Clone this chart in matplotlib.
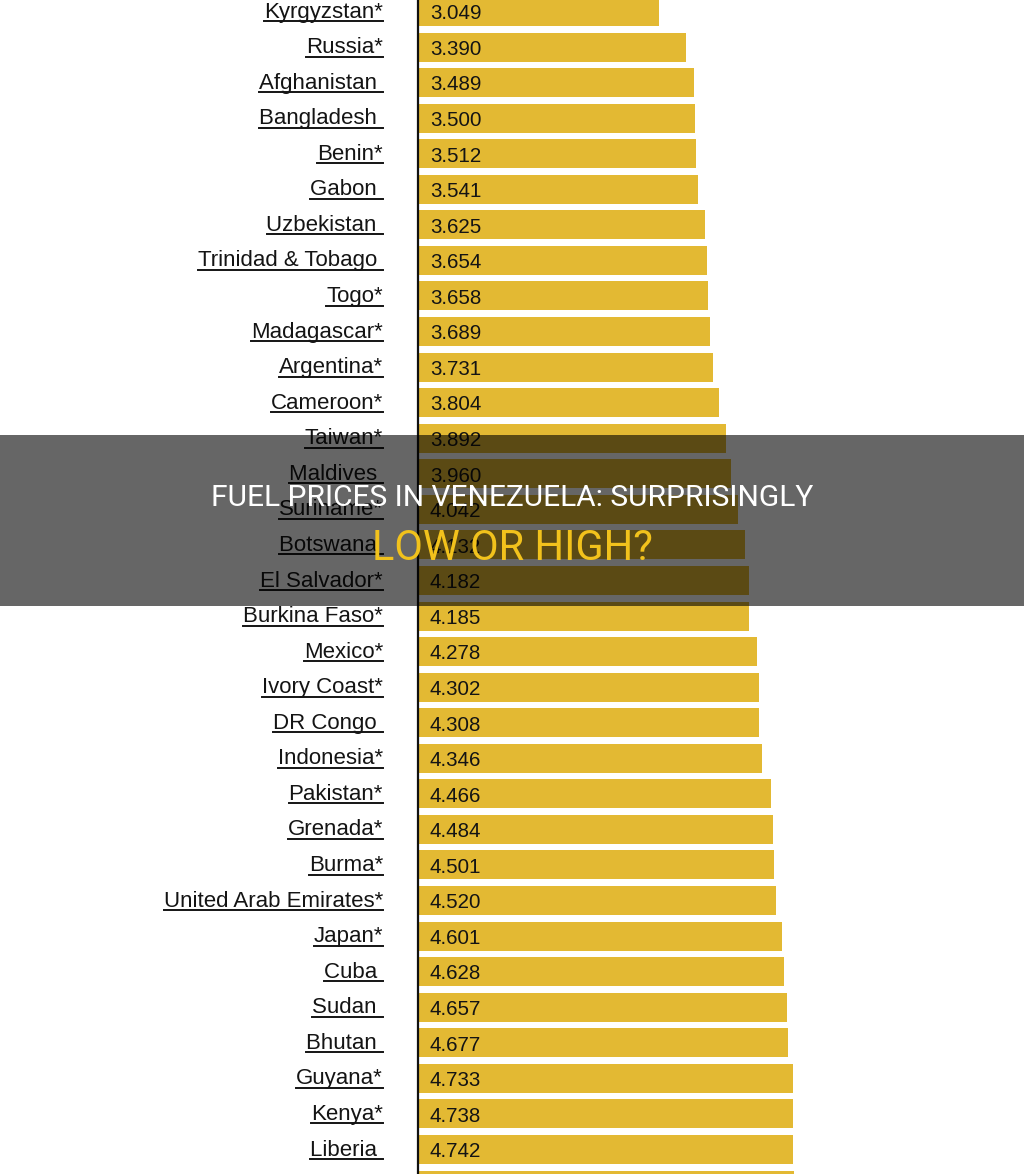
import matplotlib
matplotlib.use("Agg")
import matplotlib.pyplot as plt
from matplotlib.transforms import blended_transform_factory
from matplotlib.patches import Rectangle

countries = ['Kyrgyzstan*', 'Russia*', 'Afghanistan ', 'Bangladesh ', 'Benin*', 'Gabon ',
             'Uzbekistan ', 'Trinidad & Tobago ', 'Togo*', 'Madagascar*', 'Argentina*',
             'Cameroon*', 'Taiwan*', 'Maldives ', 'Suriname*', 'Botswana ', 'El Salvador*',
             'Burkina Faso*', 'Mexico*', 'Ivory Coast*', 'DR Congo ', 'Indonesia*',
             'Pakistan*', 'Grenada*', 'Burma*', 'United Arab Emirates*', 'Japan*', 'Cuba ',
             'Sudan ', 'Bhutan ', 'Guyana*', 'Kenya*', 'Liberia ', '']
prices = [3.049, 3.390, 3.489, 3.500, 3.512, 3.541, 3.625, 3.654, 3.658, 3.689, 3.731,
          3.804, 3.892, 3.960, 4.042, 4.132, 4.182, 4.185, 4.278, 4.302, 4.308, 4.346,
          4.466, 4.484, 4.501, 4.520, 4.601, 4.628, 4.657, 4.677, 4.733, 4.738, 4.742, 4.750]
value_labels = [f'{p:.3f}' for p in prices[:-1]] + ['']

title_line1 = 'FUEL PRICES IN VENEZUELA: SURPRISINGLY'
title_line2 = 'LOW OR HIGH?'

BAR_COLOR = '#E3B933'
TEXT_COLOR = '#141414'
W, H = 1024, 1174

fig = plt.figure(figsize=(W / 100, H / 100), dpi=100)
ax = fig.add_axes([418 / W, 0, 1 - 418 / W, 1])

rows = list(range(len(prices)))
ax.barh(rows, prices, height=0.815, color=BAR_COLOR, zorder=2)
ax.set_xlim(0, (W - 418) / 79.15)
ax.set_ylim(32.69, -0.323)

for s in ['top', 'right', 'bottom']:
    ax.spines[s].set_visible(False)
ax.spines['left'].set_linewidth(1.6)
ax.spines['left'].set_color('#111111')
ax.spines['left'].set_zorder(3)
ax.set_xticks([])
ax.set_yticks([])

value_font = {'family': ['Liberation Sans', 'DejaVu Sans'], 'size': 14.8}
name_font = {'family': ['Liberation Sans', 'DejaVu Sans'], 'size': 16}

# values inside bars
for i, txt in enumerate(value_labels):
    ax.text(0.15, i + 0.22, txt, ha='left', va='baseline', color=TEXT_COLOR,
            fontdict=value_font, zorder=4)

# country names, right aligned, underlined
trans = blended_transform_factory(fig.transFigure, ax.transData)
name_texts = []
for i, name in enumerate(countries):
    t = fig.text(383 / W, i + 0.17, name, ha='right', va='baseline', color=TEXT_COLOR,
                 fontdict=name_font, transform=trans)
    name_texts.append(t)

fig.canvas.draw()
renderer = fig.canvas.get_renderer()
for t in name_texts:
    if not t.get_text():
        continue
    bb = t.get_window_extent(renderer)
    _, base_y = t.get_transform().transform(t.get_position())
    yline = (base_y - 3.5) / H
    fig.add_artist(plt.Line2D([bb.x0 / W, bb.x1 / W], [yline, yline],
                              color=TEXT_COLOR, linewidth=1.4))

# dark title band
band_top, band_bot = 435, 606
fig.add_artist(Rectangle((0, 1 - band_bot / H), 1, (band_bot - band_top) / H,
                         transform=fig.transFigure, facecolor='black', edgecolor='none',
                         linewidth=0, alpha=0.6, zorder=10))
fig.text(0.5, 1 - 498 / H, title_line1, ha='center', va='center', color='white',
         family=['Roboto', 'DejaVu Sans'], fontsize=21.5, zorder=11)
fig.text(0.5, 1 - 549 / H, title_line2, ha='center', va='center', color='#F2C21C',
         family=['Roboto', 'DejaVu Sans'], fontsize=30, zorder=11)

fig.savefig('out.png', dpi=100)
